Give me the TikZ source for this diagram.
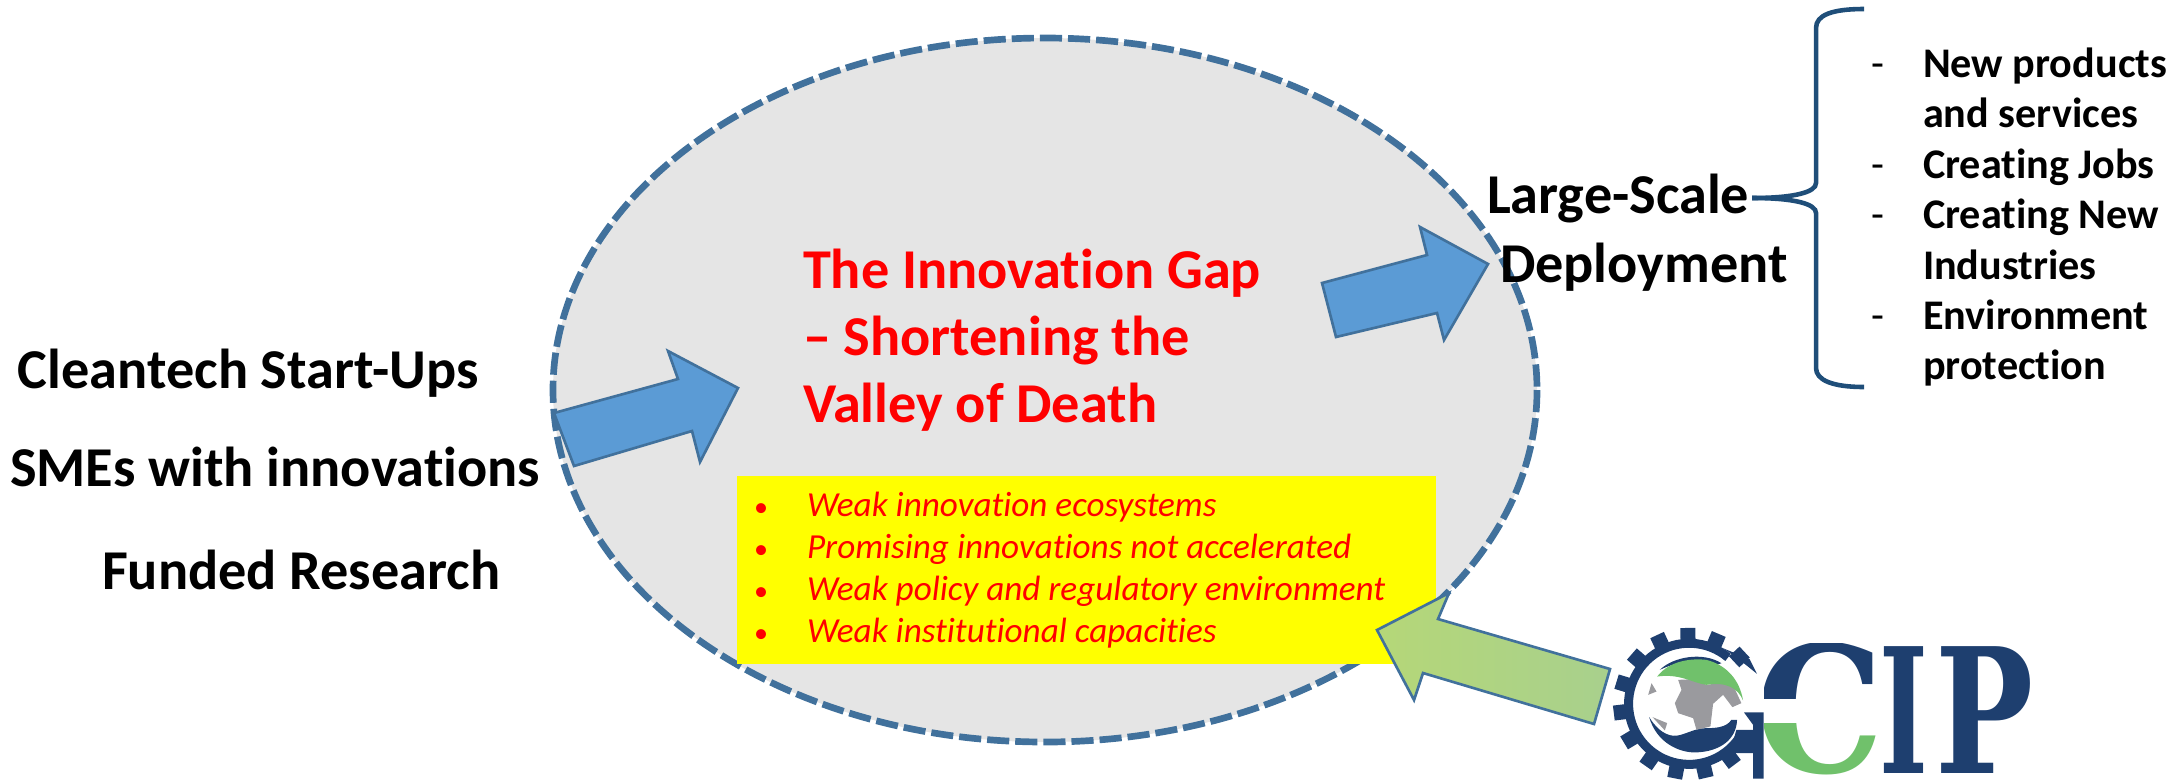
\documentclass[tikz,border=0pt]{standalone}
\usepackage{fontspec}
\usepackage{graphicx}
\setmainfont{Carlito}[Ligatures=NoCommon]
\newfontfamily\logofont{DejaVu Serif}
\definecolor{ellfill}{HTML}{E5E5E5}
\definecolor{ellline}{HTML}{41719C}
\definecolor{arrfill}{HTML}{5B9BD5}
\definecolor{bracecol}{HTML}{1F4E79}
\definecolor{logoblue}{HTML}{1E3F6F}
\definecolor{logogreen}{HTML}{70C16B}
\definecolor{logogray}{HTML}{9A9A9E}
\definecolor{greenarr}{HTML}{A8D08D}
\definecolor{boxyellow}{RGB}{255,255,0}
\definecolor{txtred}{RGB}{255,0,0}
\tikzset{
  lbl/.style={anchor=base west,inner sep=0pt,outer sep=0pt,text=black},
  lefttxt/.style={lbl,font=\fontsize{16pt}{17pt}\selectfont\bfseries},
  gaptxt/.style={lbl,text=txtred,font=\fontsize{16pt}{17pt}\selectfont\bfseries},
  deptxt/.style={lbl,font=\fontsize{16pt}{17pt}\selectfont\bfseries},
  rtxt/.style={lbl,font=\fontsize{12pt}{13pt}\selectfont\bfseries},
  rdash/.style={lbl,font=\fontsize{12pt}{13pt}\selectfont},
  wktxt/.style={lbl,text=txtred,font=\fontsize{10pt}{11pt}\selectfont\itshape},
  wkbul/.style={lbl,text=txtred,font=\fontsize{8pt}{9pt}\selectfont},
  blockarrow/.style={draw=ellline,line width=.75pt,line join=miter},
}
\begin{document}
\begin{tikzpicture}[x=0.01cm,y=-0.01cm]
\useasboundingbox (0,0) rectangle (2183,781);
% ellipse
\draw[fill=ellfill,draw=ellline,line width=1.9pt,dash pattern=on 6.3pt off 1.7pt] (1045,390) ellipse [x radius=492,y radius=352];
% yellow box
\node[fill=boxyellow,minimum width=6.99cm,minimum height=1.88cm,inner sep=0pt,anchor=north west] (box) at (736,475) {};
% blue arrows
\draw[blockarrow,fill=arrfill] (554,413) -- (574,466) -- (692,431) -- (700,462) -- (738,388) -- (668,351) -- (678,379) -- cycle;
\draw[blockarrow,fill=arrfill] (1322,283) -- (1336,337) -- (1437,313) -- (1444,340) -- (1488,264) -- (1420,227) -- (1427,255) -- cycle;
% green arrow
\draw[blockarrow,left color=greenarr!85!boxyellow,right color=greenarr] (1377,630) -- (1449,593) -- (1438,619) -- (1610,669) -- (1594,724) -- (1423,673) -- (1414,700) -- cycle;
% left text
\node[lefttxt] (cl) at (18,388) {Cleantech Start-Ups};
\node[lefttxt] (sm) at (10,486) {SMEs with innovations};
\node[lefttxt] (fu) at (102,589) {Funded Research};
% gap text
\node[gaptxt] (g1) at (803,288) {The Innovation Gap};
\node[gaptxt] (g2) at (803,355) {– Shortening the};
\node[gaptxt] (g3) at (803,422) {Valley of Death};
% bullets
\foreach \n/\yy/\t in {a/516/Weak innovation ecosystems,b/558/Promising innovations not accelerated,c/600/Weak policy and regulatory environment,d/642/Weak institutional capacities}{
  \node[wkbul] (b\n) at (754,\yy) {•};
  \node[wktxt] (t\n) at (807,\yy) {\t};
}
% deployment
\node[deptxt] (ls) at (1487,213) {Large-Scale};
\node[deptxt] (dp) at (1500,282) {Deployment};
% brace
\coordinate (bt) at (1864,9);
\coordinate (bb) at (1864,387);
\coordinate (bm) at (1752,198);
\draw[bracecol,line width=1.3pt] (bt) .. controls (1832,9) and (1816,15) .. (1816,28) -- (1816,183) .. controls (1816,192) and (1795,198) .. (bm);
\draw[bracecol,line width=1.3pt] (bm) .. controls (1795,198) and (1816,204) .. (1816,213) -- (1816,368) .. controls (1816,380) and (1832,387) .. (bb);
% right list
\foreach \n/\yy/\t in {p/77/New products,q/127/and services,r/178/Creating Jobs,s/228/Creating New,u/279/Industries,v/329/Environment,w/379/protection}{
  \node[rtxt] (r\n) at (1923,\yy) {\t};
}
\foreach \n/\yy in {a/77,b/178,c/228,d/329}{
  \node[rdash] (d\n) at (1871,\yy) {-};
}
% logo
\begin{scope}[shift={(1550,580)},x=0.003333cm,y=-0.003333cm]
  \coordinate (gc) at (418,372);
  \draw[logoblue,line width=0.09cm] plot[domain=50:325,samples=60] ({418+182*cos(\x)},{372-182*sin(\x)});
  \foreach \a in {43,67,91,115,139,163,187,211,235,259,283,307}{
    \draw[logoblue,line width=0.15cm] ({418+185*cos(\a)},{372-185*sin(\a)}) -- ({418+228*cos(\a)},{372-228*sin(\a)});
  }
  \fill[logoblue] (520,205) -- (600,238) -- (622,282) -- (560,232) -- cycle;
  \fill[logoblue] (583,398) -- (642,398) -- (642,597) -- (610,597) -- (610,435) -- cycle;
  \fill[logoblue] (560,450) -- (612,450) -- (612,520) -- (540,520) -- cycle;
  \fill[logoblue] (298,412) .. controls (320,490) and (390,520) .. (440,518) .. controls (510,515) and (560,480) .. (562,420) -- (545,420) .. controls (530,445) and (490,445) .. (470,445) .. controls (430,445) and (400,470) .. (370,468) .. controls (340,465) and (315,440) .. cycle;
  \fill[logoblue] (330,270) .. controls (370,230) and (460,215) .. (515,250) -- (500,255) .. controls (450,235) and (380,245) .. cycle;
  \fill[logogray] (385,300) -- (430,298) -- (470,315) -- (545,305) -- (575,370) -- (548,382) -- (520,345) -- (490,372) -- (482,440) -- (440,450) -- (430,415) -- (385,400) -- (375,370) -- (395,330) -- cycle;
  \fill[logogray] (295,345) -- (305,310) -- (320,335) -- cycle;
  \fill[logogray] (308,412) -- (352,430) -- (345,452) -- cycle;
  \fill[logogreen] (322,290) .. controls (360,240) and (430,235) .. (470,240) .. controls (530,255) and (570,300) .. (580,362) .. controls (565,325) and (530,305) .. (470,315) .. controls (430,310) and (390,280) .. cycle;
  \begin{scope}
    \clip (645,190) rectangle (1000,355);
    \node[anchor=base,inner sep=0pt,font=\logofont\bfseries\fontsize{50pt}{50pt}\selectfont,text=logoblue] (lc) at (812,578) {\scalebox{.92}[1]{C}};
  \end{scope}
  \begin{scope}
    \clip (645,430) rectangle (1000,600);
    \node[anchor=base,inner sep=0pt,font=\logofont\bfseries\fontsize{50pt}{50pt}\selectfont,text=logogreen] (lc2) at (812,578) {\scalebox{.92}[1]{C}};
  \end{scope}
  \node[anchor=base,inner sep=0pt,font=\logofont\bfseries\fontsize{49.5pt}{50pt}\selectfont,text=logoblue] (li) at (1063,580) {\scalebox{.6}[1]{I}};
  \node[anchor=base west,inner sep=0pt,font=\logofont\bfseries\fontsize{49.5pt}{50pt}\selectfont,text=logoblue] (lp) at (1155,580) {\scalebox{.75}[1]{P}};
\end{scope}
\end{tikzpicture}
\end{document}
